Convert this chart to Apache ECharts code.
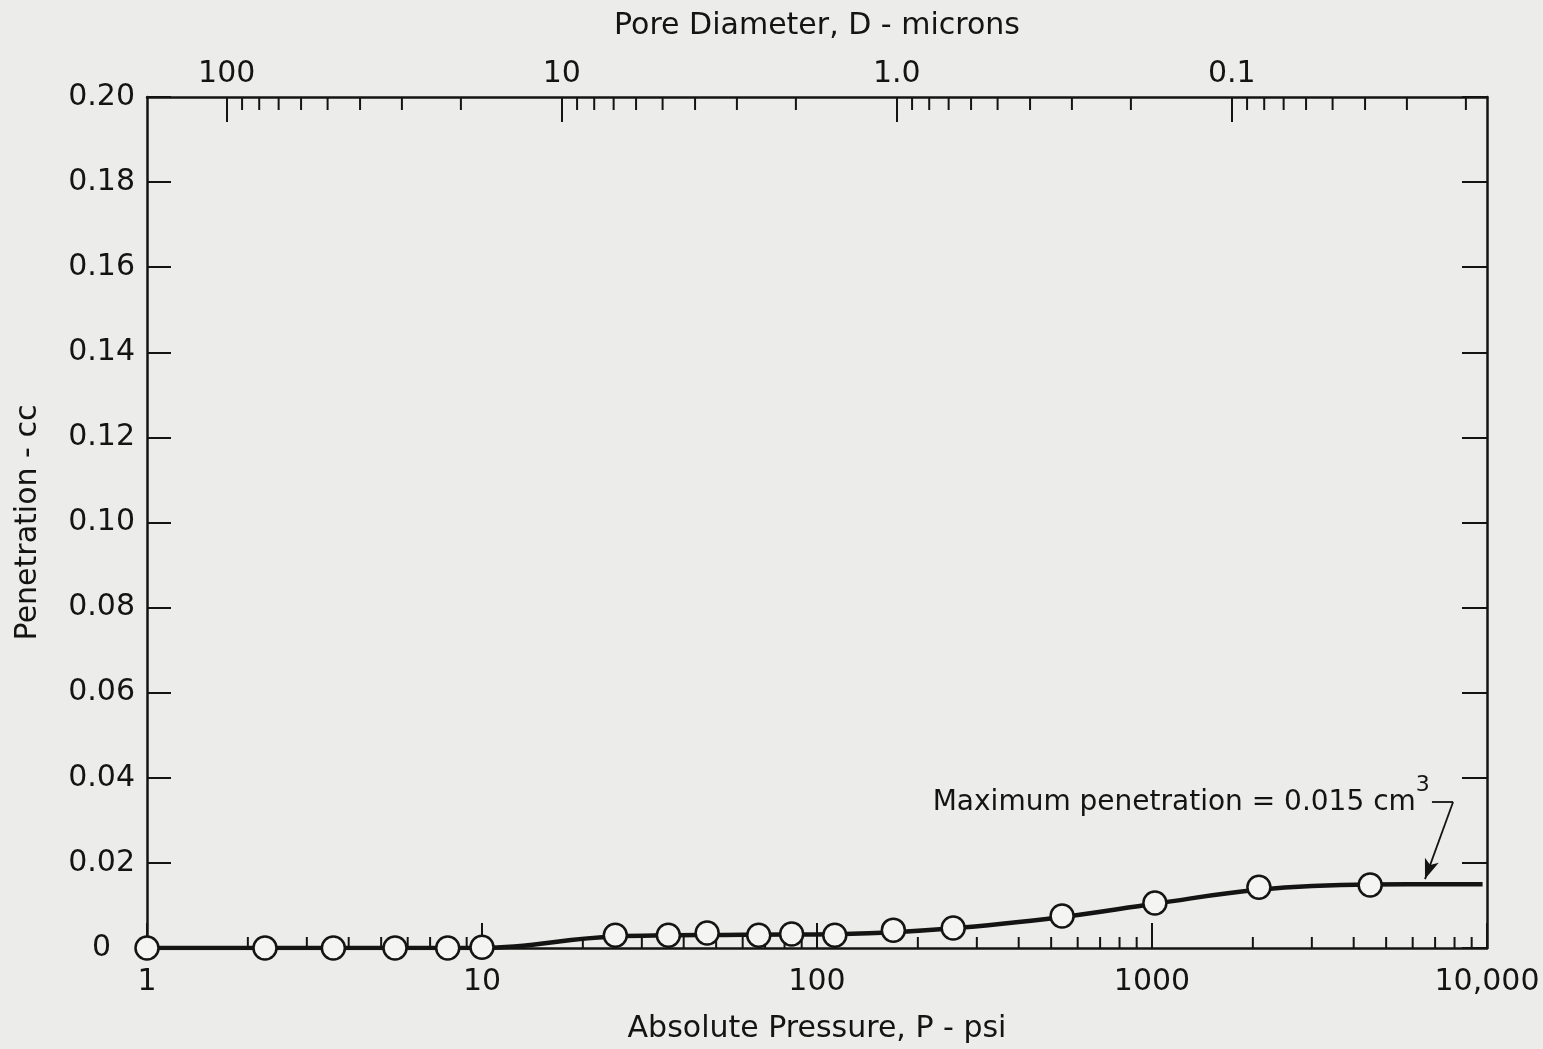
<!DOCTYPE html>
<html>
<head>
<meta charset="utf-8">
<script src="https://cdn.jsdelivr.net/npm/echarts@6/dist/echarts.min.js"></script>
<style>
html,body{margin:0;padding:0;background:#ececea;}
#c{width:1543px;height:1049px;}
</style>
</head>
<body>
<div id="c"></div>
<script>
// ---- data ----
const pressurePts = [1, 2.25, 3.6, 5.5, 7.9, 10, 25, 36, 47, 67, 84, 113, 169, 255, 539, 1020, 2085, 4480];
const penetrationPts = [0, 0, 0, 0, 0, 0.0002, 0.003, 0.003, 0.0035, 0.003, 0.0033, 0.003, 0.0042, 0.0047, 0.0075, 0.0106, 0.0143, 0.0148];
const curveP = [1, 10, 25, 60, 120, 250, 540, 1020, 2080, 4500, 9700];
const curveV = [0, 0, 0.0027, 0.0031, 0.0033, 0.0046, 0.0073, 0.0104, 0.0137, 0.0149, 0.0150];
const yTicks = [0, 0.02, 0.04, 0.06, 0.08, 0.10, 0.12, 0.14, 0.16, 0.18, 0.20];
const bottomTickLabels = {1: '1', 10: '10', 100: '100', 1000: '1000', 10000: '10,000'};
const topTickLabels = {100: '100', 10: '10', 1: '1.0', 0.1: '0.1'};
const poreConst = 173; // D (microns) * P (psi)
const minorMultipliers = [2, 3, 4, 5, 6, 7, 8, 9];
const bottomDecades = [1, 10, 100, 1000];
const topDecades = [0.01, 0.1, 1, 10, 100];
const annotationText = 'Maximum penetration = 0.015 cm';
const annotationSup = '3';

// axis structure: minor tick positions
const bottomMinor = [];
bottomDecades.forEach(d => minorMultipliers.forEach(m => bottomMinor.push([d * m])));
const Dmin = poreConst / 10000, Dmax = poreConst / 1;
const topMinor = [];
topDecades.forEach(d => minorMultipliers.forEach(m => { const v = d * m; if (v > Dmin && v < Dmax) topMinor.push([v]); }));

const scatterData = pressurePts.map((p, i) => [p, penetrationPts[i]]);
const curveData = curveP.map((p, i) => [p, curveV[i]]);

const INK = '#141414';
const FONT = 'DejaVu Sans';

const chart = echarts.init(document.getElementById('c'), null, {renderer: 'canvas'});

function minorTickRenderer(yVal, len) {
  return function (params, api) {
    const p = api.coord([api.value(0), yVal]);
    return {
      type: 'line',
      shape: {x1: p[0], y1: p[1], x2: p[0], y2: p[1] + len},
      style: {stroke: INK, lineWidth: 2}
    };
  };
}

chart.setOption({
  animation: false,
  backgroundColor: '#ececea',
  grid: {left: 147, right: 56, top: 97, bottom: 99, containLabel: false},
  xAxis: [
    {
      type: 'log', logBase: 10, min: 1, max: 10000, position: 'bottom',
      name: 'Absolute Pressure, P - psi', nameLocation: 'middle', nameGap: 66,
      nameTextStyle: {fontFamily: FONT, fontSize: 30, color: INK},
      axisLine: {show: true, onZero: false, lineStyle: {color: INK, width: 2.5}},
      axisTick: {show: true, inside: true, length: 25, lineStyle: {color: INK, width: 2}},
      splitLine: {show: false}, minorTick: {show: false},
      axisLabel: {
        fontFamily: FONT, fontSize: 30, color: INK, margin: 19,
        formatter: v => bottomTickLabels[Math.round(v)] !== undefined && Math.abs(v - Math.round(v)) < 1e-6 ? bottomTickLabels[Math.round(v)] : ''
      }
    },
    {
      type: 'log', logBase: 10, min: Dmin, max: Dmax, inverse: true, position: 'top',
      name: 'Pore Diameter, D - microns', nameLocation: 'middle', nameGap: 56,
      nameTextStyle: {fontFamily: FONT, fontSize: 30, color: INK},
      axisLine: {show: true, onZero: false, lineStyle: {color: INK, width: 2.5}},
      axisTick: {show: true, inside: true, length: 25, lineStyle: {color: INK, width: 2}},
      splitLine: {show: false},
      axisLabel: {
        fontFamily: FONT, fontSize: 30, color: INK, margin: 8, showMinLabel: false, showMaxLabel: false,
        formatter: v => {
          for (const k in topTickLabels) { if (Math.abs(v - Number(k)) < 1e-9 * Number(k) + 1e-12) return topTickLabels[k]; }
          return '';
        }
      }
    }
  ],
  yAxis: [
    {
      type: 'value', min: 0, max: 0.2, interval: 0.02, position: 'left',
      name: 'Penetration - cc', nameLocation: 'middle', nameGap: 104, nameRotate: 90,
      nameTextStyle: {fontFamily: FONT, fontSize: 30, color: INK},
      axisLine: {show: true, onZero: false, lineStyle: {color: INK, width: 2.5}},
      axisTick: {show: true, inside: true, length: 24, lineStyle: {color: INK, width: 2}},
      splitLine: {show: false},
      axisLabel: {
        fontFamily: FONT, fontSize: 30, color: INK, margin: 12,
        formatter: v => v === 0 ? '{z|0}' : v.toFixed(2),
        rich: {z: {fontFamily: FONT, fontSize: 30, color: INK, padding: [0, 24, 0, 0]}}
      }
    },
    {
      type: 'value', min: 0, max: 0.2, interval: 0.02, position: 'right',
      axisLine: {show: true, onZero: false, lineStyle: {color: INK, width: 2.5}},
      axisTick: {show: true, inside: true, length: 25, lineStyle: {color: INK, width: 2}},
      splitLine: {show: false},
      axisLabel: {show: false}
    }
  ],
  series: [
    {
      type: 'line', name: 'curve', data: curveData, xAxisIndex: 0, yAxisIndex: 0,
      smooth: 0.4, showSymbol: false, symbol: 'none',
      lineStyle: {color: INK, width: 4.5}, z: 3, silent: true,
      markLine: {
        silent: true, animation: false,
        lineStyle: {color: INK, width: 1.8, type: 'solid'},
        label: {show: false},
        symbolSize: [11, 20],
        data: [
          [{coord: [6850, 0.0343], symbol: 'none'}, {coord: [7920, 0.0343], symbol: 'none'}],
          [{coord: [7920, 0.0343], symbol: 'none'}, {coord: [6530, 0.0162], symbol: 'arrow'}]
        ]
      },
      markPoint: {
        silent: true, animation: false,
        symbol: 'circle', symbolSize: 0,
        data: [{coord: [6750, 0.0358]}],
        label: {
          show: true, position: 'left', distance: 0,
          formatter: '{a|' + annotationText + '}{b|' + annotationSup + '}',
          rich: {
            a: {fontFamily: FONT, fontSize: 28, color: INK, lineHeight: 42, verticalAlign: 'bottom'},
            b: {fontFamily: FONT, fontSize: 22, color: INK, lineHeight: 42, verticalAlign: 'top'}
          }
        }
      }
    },
    {
      type: 'scatter', name: 'points', data: scatterData, xAxisIndex: 0, yAxisIndex: 0,
      symbol: 'circle', symbolSize: 23,
      itemStyle: {color: '#f4f4f2', borderColor: INK, borderWidth: 2.5, opacity: 1},
      z: 5, silent: true
    },
    {
      type: 'custom', name: 'bottomMinor', xAxisIndex: 0, yAxisIndex: 0,
      data: bottomMinor, renderItem: minorTickRenderer(0, -11), silent: true, z: 4
    },
    {
      type: 'custom', name: 'topMinor', xAxisIndex: 1, yAxisIndex: 0,
      data: topMinor, renderItem: minorTickRenderer(0.2, 13), silent: true, z: 4
    }
  ]
});
</script>
</body>
</html>
